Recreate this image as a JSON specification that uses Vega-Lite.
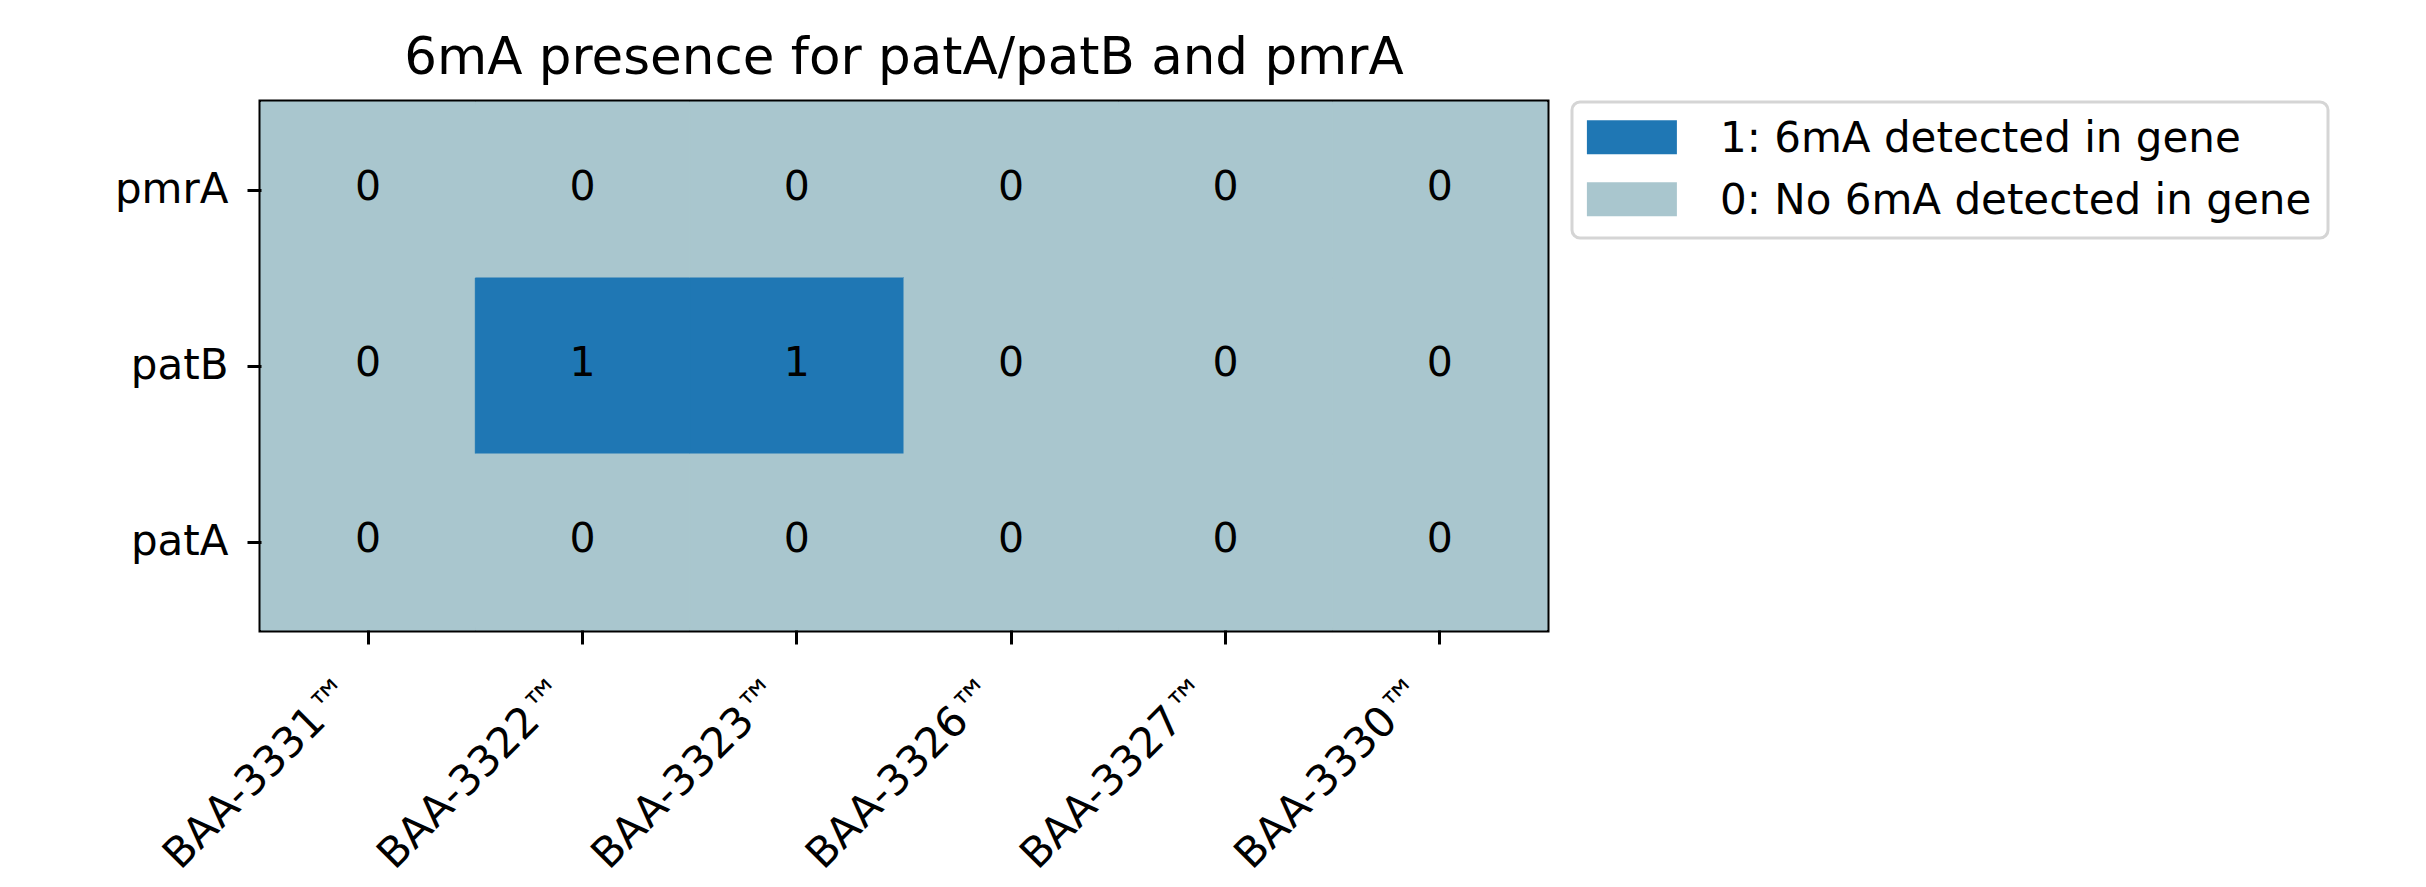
{
  "$schema": "https://vega.github.io/schema/vega-lite/v6.json",
  "width": 1286,
  "height": 528,
  "autosize": {"type": "none"},
  "padding": {"left": 261, "top": 102, "right": 879, "bottom": 257},
  "background": "white",
  "title": {
    "text": "6mA presence for patA/patB and pmrA",
    "font": "DejaVu Sans",
    "fontSize": 51.5,
    "fontWeight": "normal",
    "color": "black",
    "baseline": "alphabetic",
    "offset": -25,
    "frame": "group",
    "anchor": "middle"
  },
  "config": {
    "view": {"stroke": "black", "strokeWidth": 5},
    "font": "DejaVu Sans",
    "legend": {"strokeWidth": 3}
  },
  "data": {
    "values": [
      {"strain": "BAA-3331™", "gene": "pmrA", "value": 0, "status": "0: No 6mA detected in gene"},
      {"strain": "BAA-3322™", "gene": "pmrA", "value": 0, "status": "0: No 6mA detected in gene"},
      {"strain": "BAA-3323™", "gene": "pmrA", "value": 0, "status": "0: No 6mA detected in gene"},
      {"strain": "BAA-3326™", "gene": "pmrA", "value": 0, "status": "0: No 6mA detected in gene"},
      {"strain": "BAA-3327™", "gene": "pmrA", "value": 0, "status": "0: No 6mA detected in gene"},
      {"strain": "BAA-3330™", "gene": "pmrA", "value": 0, "status": "0: No 6mA detected in gene"},
      {"strain": "BAA-3331™", "gene": "patB", "value": 0, "status": "0: No 6mA detected in gene"},
      {"strain": "BAA-3322™", "gene": "patB", "value": 1, "status": "1: 6mA detected in gene"},
      {"strain": "BAA-3323™", "gene": "patB", "value": 1, "status": "1: 6mA detected in gene"},
      {"strain": "BAA-3326™", "gene": "patB", "value": 0, "status": "0: No 6mA detected in gene"},
      {"strain": "BAA-3327™", "gene": "patB", "value": 0, "status": "0: No 6mA detected in gene"},
      {"strain": "BAA-3330™", "gene": "patB", "value": 0, "status": "0: No 6mA detected in gene"},
      {"strain": "BAA-3331™", "gene": "patA", "value": 0, "status": "0: No 6mA detected in gene"},
      {"strain": "BAA-3322™", "gene": "patA", "value": 0, "status": "0: No 6mA detected in gene"},
      {"strain": "BAA-3323™", "gene": "patA", "value": 0, "status": "0: No 6mA detected in gene"},
      {"strain": "BAA-3326™", "gene": "patA", "value": 0, "status": "0: No 6mA detected in gene"},
      {"strain": "BAA-3327™", "gene": "patA", "value": 0, "status": "0: No 6mA detected in gene"},
      {"strain": "BAA-3330™", "gene": "patA", "value": 0, "status": "0: No 6mA detected in gene"}
    ]
  },
  "encoding": {
    "x": {
      "field": "strain",
      "type": "nominal",
      "sort": ["BAA-3331™", "BAA-3322™", "BAA-3323™", "BAA-3326™", "BAA-3327™", "BAA-3330™"],
      "scale": {"paddingInner": 0, "paddingOuter": 0},
      "axis": {
        "title": null,
        "domain": false,
        "ticks": true,
        "tickColor": "black",
        "tickWidth": 3,
        "tickSize": 14,
        "labelFont": "DejaVu Sans",
        "labelFontSize": 42,
        "labelColor": "black",
        "labelAngle": -45,
        "labelAlign": "right",
        "labelBaseline": "middle",
        "labelOffset": -20,
        "labelPadding": 40,
        "labelOverlap": false,
        "labelLimit": 0,
        "grid": false
      }
    },
    "y": {
      "field": "gene",
      "type": "nominal",
      "sort": ["pmrA", "patB", "patA"],
      "scale": {"paddingInner": 0, "paddingOuter": 0},
      "axis": {
        "title": null,
        "domain": false,
        "ticks": true,
        "tickColor": "black",
        "tickWidth": 3,
        "tickSize": 14,
        "labelFont": "DejaVu Sans",
        "labelFontSize": 42,
        "labelColor": "black",
        "labelPadding": 19,
        "labelAngle": 0,
        "grid": false
      }
    }
  },
  "layer": [
    {
      "mark": {"type": "rect", "strokeWidth": 1},
      "encoding": {
        "color": {
          "field": "status",
          "type": "nominal",
          "scale": {
            "domain": ["1: 6mA detected in gene", "0: No 6mA detected in gene"],
            "range": ["#1f77b4", "#a9c6ce"]
          },
          "legend": {
            "title": null,
            "orient": "none",
            "legendX": 1311,
            "legendY": 0,
            "padding": 16,
            "fillColor": "white",
            "strokeColor": "#d5d5d5",
            "cornerRadius": 8,
            "symbolType": "M-1.3,-1.1L3.994,-1.1L3.994,0.9L-1.3,0.9Z",
            "symbolSize": 1156,
            "symbolStrokeWidth": 0,
            "symbolOpacity": 1,
            "labelOffset": 90,
            "labelFont": "DejaVu Sans",
            "labelFontSize": 42,
            "labelColor": "black",
            "labelLimit": 0,
            "rowPadding": 20
          }
        },
        "stroke": {
          "field": "status",
          "type": "nominal",
          "scale": {
            "domain": ["1: 6mA detected in gene", "0: No 6mA detected in gene"],
            "range": ["#1f77b4", "#a9c6ce"]
          },
          "legend": null
        }
      }
    },
    {
      "mark": {"type": "text", "font": "DejaVu Sans", "fontSize": 41, "color": "black", "baseline": "middle", "dy": -2},
      "encoding": {
        "text": {"field": "value", "type": "quantitative"}
      }
    }
  ]
}
